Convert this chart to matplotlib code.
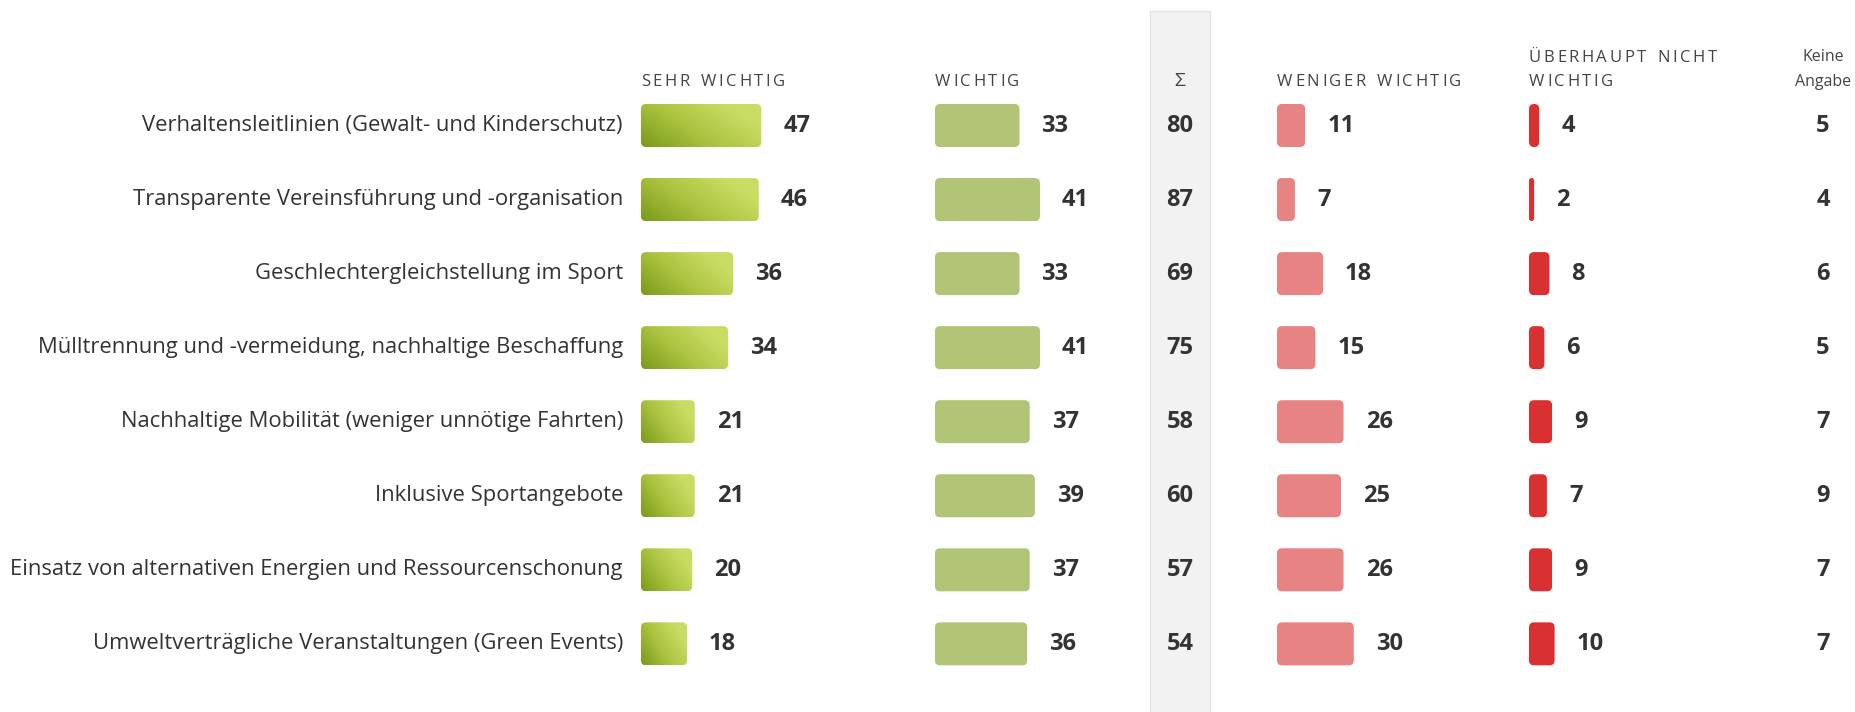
import numpy as np
import matplotlib.pyplot as plt
from matplotlib.patches import FancyBboxPatch, Rectangle
from matplotlib.colors import LinearSegmentedColormap

plt.rcParams['font.family'] = ['Open Sans', 'DejaVu Sans']

# Data
items = [
    'Verhaltensleitlinien (Gewalt- und Kinderschutz)',
    'Transparente Vereinsführung und -organisation',
    'Geschlechtergleichstellung im Sport',
    'Mülltrennung und -vermeidung, nachhaltige Beschaffung',
    'Nachhaltige Mobilität (weniger unnötige Fahrten)',
    'Inklusive Sportangebote',
    'Einsatz von alternativen Energien und Ressourcenschonung',
    'Umweltverträgliche Veranstaltungen (Green Events)',
]
sehr_wichtig = [47, 46, 36, 34, 21, 21, 20, 18]
wichtig = [33, 41, 33, 41, 37, 39, 37, 36]
summe = [80, 87, 69, 75, 58, 60, 57, 54]
weniger_wichtig = [11, 7, 18, 15, 26, 25, 26, 30]
nicht_wichtig = [4, 2, 8, 6, 9, 7, 9, 10]
keine_angabe = [5, 4, 6, 5, 7, 9, 7, 7]

W, H = 1856, 712
fig = plt.figure(figsize=(W / 100, H / 100), dpi=100)
ax = fig.add_axes([0, 0, 1, 1])

row_y = 125.5 + 74.05 * np.arange(len(items))
bar_h = 43
px_per_pct = 2.56
gap = 22
text_col = '#333333'
val_size = 17

green_cmap = LinearSegmentedColormap.from_list('g', ['#7a9a1a', '#a9c23e', '#c9dc63'])
n = 64
gx, gy = np.meshgrid(np.linspace(0, 1, n), np.linspace(1, 0, n))
grad = np.clip((gx * 1.3 + gy * 0.7) / 1.6, 0, 1)


def bar(x0, y, value, color=None, gradient=False):
    w = value * px_per_pct
    r = min(5, w / 2)
    patch = FancyBboxPatch((x0, y - bar_h / 2), w, bar_h,
                           boxstyle=f'round,pad=0,rounding_size={r}',
                           fc=color if color else 'none', ec='none')
    ax.add_patch(patch)
    if gradient:
        im = ax.imshow(grad, cmap=green_cmap, aspect='auto', interpolation='bilinear',
                       extent=(x0, x0 + w, y + bar_h / 2, y - bar_h / 2))
        im.set_clip_path(patch)
    return x0 + w


def spaced(x, y, s, spacing, **kw):
    # letter-spaced caps like the original headers
    r = fig.canvas.get_renderer()
    for ch in s:
        if ch == ' ':
            x += 6 + spacing
            continue
        t = ax.text(x, y, ch, ha='left', va='center', **kw)
        x += t.get_window_extent(r).width + spacing


# Σ column background
ax.add_patch(Rectangle((1150, 11), 60, H, fc='#f2f2f2', ec='#e4e4e4', lw=1))

x_sehr, x_wichtig, x_sum = 641, 935, 1180
x_weniger, x_nicht, x_keine = 1277, 1529, 1823

for i, y in enumerate(row_y):
    ax.text(623, y, items[i], ha='right', va='center', fontsize=15.8, color=text_col)

    end = bar(x_sehr, y, sehr_wichtig[i], gradient=True)
    ax.text(end + gap, y, str(sehr_wichtig[i]), ha='left', va='center',
            fontsize=val_size, fontweight='bold', color=text_col)

    end = bar(x_wichtig, y, wichtig[i], color='#b2c476')
    ax.text(end + gap, y, str(wichtig[i]), ha='left', va='center',
            fontsize=val_size, fontweight='bold', color=text_col)

    ax.text(x_sum, y, str(summe[i]), ha='center', va='center',
            fontsize=val_size, fontweight='bold', color=text_col)

    end = bar(x_weniger, y, weniger_wichtig[i], color='#e88383')
    ax.text(end + gap, y, str(weniger_wichtig[i]), ha='left', va='center',
            fontsize=val_size, fontweight='bold', color=text_col)

    end = bar(x_nicht, y, nicht_wichtig[i], color='#d93131')
    ax.text(end + gap, y, str(nicht_wichtig[i]), ha='left', va='center',
            fontsize=val_size, fontweight='bold', color=text_col)

    ax.text(x_keine, y, str(keine_angabe[i]), ha='center', va='center',
            fontsize=val_size, fontweight='bold', color=text_col)

# Column headers
hdr = dict(fontsize=12, color='#444444')
spaced(x_sehr, 82, 'SEHR WICHTIG', 2.6, **hdr)
spaced(x_wichtig, 82, 'WICHTIG', 2.6, **hdr)
ax.text(x_sum, 81, 'Σ', ha='center', va='center', fontsize=14, color='#444444')
spaced(x_weniger, 82, 'WENIGER WICHTIG', 2.6, **hdr)
spaced(x_nicht, 58, 'ÜBERHAUPT NICHT', 2.6, **hdr)
spaced(x_nicht, 82, 'WICHTIG', 2.6, **hdr)
ax.text(x_keine, 57, 'Keine', ha='center', va='center', fontsize=11.5, color='#444444')
ax.text(x_keine, 82, 'Angabe', ha='center', va='center', fontsize=11.5, color='#444444')

ax.set_xlim(0, W)
ax.set_ylim(H, 0)
ax.axis('off')

fig.savefig('out.png', dpi=100)
